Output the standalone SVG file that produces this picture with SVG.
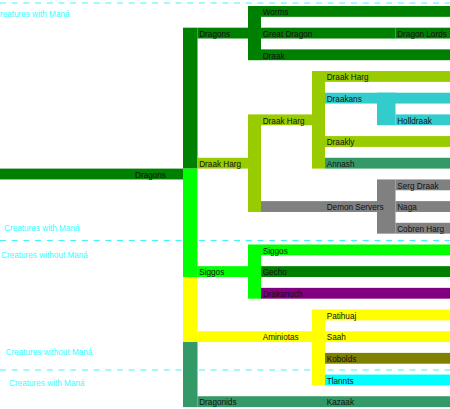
<svg xmlns="http://www.w3.org/2000/svg" width="450" height="409" viewBox="0 0 450 409">
<style>
text{font-family:"Liberation Sans",Arial,sans-serif;font-size:8.2px;fill:#111}
.zone{fill:#33FFFF;font-size:8.2px}
.dash{stroke:#44F4F4;stroke-width:1.2;stroke-dasharray:6 5.7;fill:none}
.dg{fill:#008000}.lg{fill:#99CC00}.bg{fill:#00FF00}.ye{fill:#FFFF00}.te{fill:#339966}
.cy{fill:#33CCCC}.gr{fill:#808080}.pu{fill:#800080}.ol{fill:#808000}.aq{fill:#00FFFF}
.edge{stroke:#ffffff;stroke-opacity:0.3;stroke-width:0.8}
</style>
<rect width="450" height="409" fill="#ffffff"/>
<g id="zones">
<line class="dash" x1="0" y1="3" x2="450" y2="3"/>
<line class="dash" x1="0" y1="240.5" x2="450" y2="240.5"/>
<line class="dash" x1="0" y1="370" x2="450" y2="370"/>
<text class="zone" x="-6" y="17">Creatures with Maná</text>
<text class="zone" x="4" y="230.5">Creatures with Maná</text>
<text class="zone" x="1" y="257.5">Creatures without Maná</text>
<text class="zone" x="5.5" y="355">Creatures without Maná</text>
<text class="zone" x="9" y="386">Creatures with Maná</text>
</g>
<g id="connectors">
<rect class="dg" x="183" y="27.68" width="14.5" height="140.92"/>
<rect class="bg" x="183" y="168.6" width="14.5" height="108.4"/>
<rect class="ye" x="183" y="277" width="14.5" height="65.04"/>
<rect class="te" x="183" y="342.04" width="14.5" height="65.04"/>
<rect class="dg" x="248" y="6" width="13" height="54.2"/>
<rect class="lg" x="248" y="114.4" width="13" height="97.56"/>
<rect class="lg" x="312" y="71.04" width="13" height="97.56"/>
<rect class="cy" x="377" y="92.72" width="18.5" height="32.52"/>
<rect class="gr" x="377" y="179.44" width="18.5" height="54.2"/>
<rect class="bg" x="248" y="244.48" width="13" height="54.2"/>
<rect class="ye" x="312" y="309.52" width="13" height="75.88"/>
</g>
<g id="n-dragons-root"><rect class="dg" x="0" y="168.6" width="183" height="10.84"/><text x="135" y="177.8">Dragons</text></g>
<g id="n-dragons"><rect class="dg" x="197.5" y="27.68" width="50.5" height="10.84"/><text x="199.2" y="36.9">Dragons</text></g>
<g id="n-worms"><rect class="dg" x="261" y="6" width="189" height="10.84"/><text x="262.7" y="15.2">Worms</text></g>
<g id="n-great-dragon"><rect class="dg" x="261" y="27.68" width="134.5" height="10.84"/><text x="262.7" y="36.9">Great Dragon</text></g>
<g id="n-dragon-lords"><rect class="dg" x="395.5" y="27.68" width="54.5" height="10.84"/><text x="397.2" y="36.9">Dragon Lords</text></g>
<g id="n-draak"><rect class="dg" x="261" y="49.36" width="189" height="10.84"/><text x="262.7" y="58.6">Draak</text></g>
<g id="n-draak-harg-1"><rect class="lg" x="197.5" y="157.76" width="50.5" height="10.84"/><text x="199.2" y="167">Draak Harg</text></g>
<g id="n-draak-harg-2"><rect class="lg" x="261" y="114.4" width="51" height="10.84"/><text x="262.7" y="123.6">Draak Harg</text></g>
<g id="n-draak-harg-3"><rect class="lg" x="325" y="71.04" width="125" height="10.84"/><text x="326.7" y="80.2">Draak Harg</text></g>
<g id="n-draakans"><rect class="cy" x="325" y="92.72" width="125" height="10.84"/><text x="326.7" y="101.9">Draakans</text></g>
<g id="n-holldraak"><rect class="cy" x="395.5" y="114.4" width="54.5" height="10.84"/><text x="397.2" y="123.6">Holldraak</text></g>
<g id="n-draakly"><rect class="lg" x="325" y="136.08" width="125" height="10.84"/><text x="326.7" y="145.3">Draakly</text></g>
<g id="n-annash"><rect class="te" x="325" y="157.76" width="125" height="10.84"/><text x="326.7" y="167">Annash</text></g>
<g id="n-demon-servers"><rect class="gr" x="261" y="201.12" width="116" height="10.84"/><text x="326.7" y="210.3">Demon Servers</text></g>
<g id="n-serg-draak"><rect class="gr" x="395.5" y="179.44" width="54.5" height="10.84"/><text x="397.2" y="188.6">Serg Draak</text></g>
<g id="n-naga"><rect class="gr" x="395.5" y="201.12" width="54.5" height="10.84"/><text x="397.2" y="210.3">Naga</text></g>
<g id="n-cobren-harg"><rect class="gr" x="395.5" y="222.8" width="54.5" height="10.84"/><text x="397.2" y="232">Cobren Harg</text></g>
<g id="n-siggos-1"><rect class="bg" x="197.5" y="266.16" width="50.5" height="10.84"/><text x="199.2" y="275.4">Siggos</text></g>
<g id="n-siggos-2"><rect class="bg" x="261" y="244.48" width="189" height="10.84"/><text x="262.7" y="253.7">Siggos</text></g>
<g id="n-gecho"><rect class="dg" x="261" y="266.16" width="189" height="10.84"/><text x="262.7" y="275.4">Gecho</text></g>
<g id="n-drakanuch"><rect class="pu" x="261" y="287.84" width="189" height="10.84"/><text x="262.7" y="297">Drakanuch</text></g>
<g id="n-aminiotas"><rect class="ye" x="197.5" y="331.2" width="114.5" height="10.84"/><text x="262.7" y="340.4">Aminiotas</text></g>
<g id="n-patihuaj"><rect class="ye" x="325" y="309.52" width="125" height="10.84"/><text x="326.7" y="318.7">Patihuaj</text></g>
<g id="n-saah"><rect class="ye" x="325" y="331.2" width="125" height="10.84"/><text x="326.7" y="340.4">Saah</text></g>
<g id="n-kobolds"><rect class="ol" x="325" y="352.88" width="125" height="10.84"/><text x="326.7" y="362.1">Kobolds</text></g>
<g id="n-tlannts"><rect class="aq" x="325" y="374.56" width="125" height="10.84"/><text x="326.7" y="383.8">Tlannts</text></g>
<g id="n-dragonids"><rect class="te" x="197.5" y="396.24" width="127.5" height="10.84"/><text x="199.2" y="405.4">Dragonids</text></g>
<g id="n-kazaak"><rect class="te" x="325" y="396.24" width="125" height="10.84"/><text x="326.7" y="405.4">Kazaak</text></g>
</svg>
